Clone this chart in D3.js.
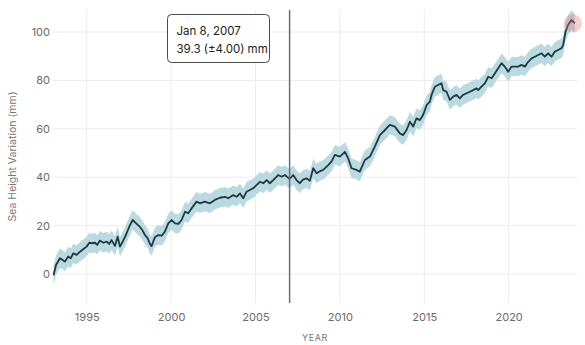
<!DOCTYPE html>
<html>
<head>
<meta charset="utf-8">
<script src="https://cdn.jsdelivr.net/npm/d3@7"></script>
<style>
  html, body { margin: 0; padding: 0; background: #fff; }
  svg { display: block; font-family: Inter, "Noto Sans", sans-serif; }
</style>
</head>
<body>
<svg id="chart" width="585" height="345"></svg>
<script>
// Satellite sea height variation (mm) against decimal year
const years = [
  1993.03, 1993.18, 1993.41, 1993.57, 1993.71, 1993.90, 1994.05, 1994.20, 1994.40, 1994.60,
  1994.79, 1994.99, 1995.15, 1995.29, 1995.49, 1995.62, 1995.78, 1995.98, 1996.18, 1996.33,
  1996.47, 1996.67, 1996.83, 1996.97, 1997.13, 1997.32, 1997.52, 1997.72, 1997.91, 1998.11,
  1998.29, 1998.45, 1998.61, 1998.74, 1998.84, 1999.04, 1999.24, 1999.44, 1999.63, 1999.83,
  2000.03, 2000.23, 2000.43, 2000.62, 2000.82, 2001.01, 2001.21, 2001.51, 2001.71, 2002.00,
  2002.30, 2002.59, 2002.89, 2003.19, 2003.38, 2003.68, 2003.88, 2004.08, 2004.27, 2004.47,
  2004.67, 2004.86, 2005.07, 2005.26, 2005.46, 2005.66, 2005.85, 2006.05, 2006.34, 2006.55,
  2006.74, 2007.02, 2007.23, 2007.43, 2007.63, 2007.81, 2008.03, 2008.22, 2008.42, 2008.62,
  2008.82, 2009.01, 2009.31, 2009.51, 2009.70, 2010.00, 2010.30, 2010.49, 2010.69, 2010.99,
  2011.18, 2011.48, 2011.78, 2012.07, 2012.37, 2012.67, 2012.96, 2013.26, 2013.55, 2013.75,
  2013.95, 2014.15, 2014.34, 2014.54, 2014.74, 2014.93, 2015.14, 2015.33, 2015.43, 2015.63,
  2015.82, 2016.02, 2016.12, 2016.32, 2016.52, 2016.71, 2016.91, 2017.11, 2017.30, 2017.51,
  2017.70, 2017.90, 2018.10, 2018.19, 2018.39, 2018.59, 2018.79, 2018.99, 2019.18, 2019.38,
  2019.58, 2019.77, 2019.97, 2020.17, 2020.37, 2020.56, 2020.76, 2020.96, 2021.16, 2021.36,
  2021.55, 2021.75, 2021.95, 2022.14, 2022.34, 2022.54, 2022.74, 2022.93, 2023.13, 2023.23,
  2023.37, 2023.52, 2023.72, 2023.92
];
const heights = [
  -0.5, 3.7, 6.5, 5.8, 5.1, 7.2, 6.5, 8.5, 7.9, 9.2,
  10.2, 11.3, 12.9, 12.7, 12.9, 12.0, 13.8, 12.9, 13.4, 12.4,
  14.0, 11.6, 15.4, 11.3, 13.4, 16.1, 19.6, 22.3, 21.0, 19.8,
  18.2, 16.1, 14.7, 12.5, 11.5, 15.2, 16.1, 15.8, 17.5, 20.9,
  22.3, 20.9, 20.7, 22.3, 25.7, 25.1, 27.1, 29.9, 29.2, 29.9,
  29.2, 30.6, 31.5, 31.9, 31.3, 32.6, 31.9, 33.3, 31.3, 34.0,
  34.7, 35.4, 36.8, 38.1, 37.5, 38.8, 37.5, 38.8, 40.9, 40.2,
  40.9, 39.3, 40.9, 38.8, 37.5, 39.0, 39.5, 38.5, 43.7, 41.6,
  42.5, 43.0, 45.0, 46.5, 49.2, 48.5, 50.5, 47.8, 43.7, 43.0,
  42.3, 47.1, 48.5, 52.6, 57.4, 59.5, 61.6, 60.9, 58.1, 57.4,
  59.5, 62.9, 60.9, 64.3, 63.6, 65.7, 69.8, 71.2, 74.0, 77.4,
  78.1, 78.8, 76.0, 75.3, 71.9, 73.3, 74.0, 72.6, 74.0, 74.7,
  75.3, 76.0, 76.7, 76.0, 77.4, 78.8, 81.5, 80.9, 82.9, 85.0,
  87.1, 85.7, 83.6, 85.7, 85.7, 85.7, 86.4, 85.7, 87.7, 89.1,
  89.8, 90.5, 91.2, 89.8, 91.2, 89.8, 91.9, 92.6, 93.3, 94.6,
  100.1, 102.9, 105.0, 103.6
];
const uncertainty = 4.0;            // ± mm
const yTicks = [0, 20, 40, 60, 80, 100];
const xTicks = [1995, 2000, 2005, 2010, 2015, 2020];
const focusYear = 2007.02;          // Jan 8, 2007
const focusLabel = "Jan 8, 2007";

const data = years.map((t, i) => ({ t, v: heights[i] }));
const focus = data.find(d => d.t === focusYear);

const svg = d3.select("#chart");
const plotLeft = 53, plotRight = 577, plotTop = 10, plotBottom = 303;

const x = d3.scaleLinear().domain([1993.0, 2024.05]).range([plotLeft, plotRight]);
const y = d3.scaleLinear().domain([-12, 109.1]).range([plotBottom, plotTop]);

// grid
svg.append("g").selectAll("line").data(yTicks).join("line")
  .attr("x1", plotLeft).attr("x2", plotRight)
  .attr("y1", d => y(d)).attr("y2", d => y(d))
  .attr("stroke", "#ececec").attr("stroke-width", 1);
svg.append("g").selectAll("line").data(xTicks).join("line")
  .attr("x1", d => x(d)).attr("x2", d => x(d))
  .attr("y1", plotTop).attr("y2", plotBottom)
  .attr("stroke", "#ececec").attr("stroke-width", 1);

// axes (labels only)
const yAxis = svg.append("g").attr("transform", `translate(${plotLeft - 3},0)`)
  .call(d3.axisLeft(y).tickValues(yTicks).tickSize(0).tickPadding(0));
const xAxis = svg.append("g").attr("transform", `translate(0,${plotBottom + 8})`)
  .call(d3.axisBottom(x).tickValues(xTicks).tickFormat(d3.format("d")).tickSize(0).tickPadding(0));
[yAxis, xAxis].forEach(g => {
  g.select(".domain").remove();
  g.selectAll("text").attr("fill", "#6b6b6b").attr("font-size", 11)
    .attr("font-family", "Inter, 'Noto Sans', sans-serif");
});
xAxis.selectAll("text").attr("dy", "0.9em");

// uncertainty band
svg.append("path").datum(data)
  .attr("fill", "#b3d5de").attr("opacity", 0.9)
  .attr("d", d3.area().x(d => x(d.t))
    .y0(d => y(d.v - uncertainty)).y1(d => y(d.v + uncertainty)));

// series line
svg.append("path").datum(data)
  .attr("fill", "none").attr("stroke", "#1e3a3f").attr("stroke-width", 1.8)
  .attr("stroke-linejoin", "round")
  .attr("d", d3.line().x(d => x(d.t)).y(d => y(d.v)));

// latest value highlight
const last = data[data.length - 1];
svg.append("circle")
  .attr("cx", x(last.t) - 2).attr("cy", y(last.v))
  .attr("r", 9).attr("fill", "rgba(226,120,120,0.35)");

// focus rule
svg.append("line")
  .attr("x1", x(focus.t)).attr("x2", x(focus.t))
  .attr("y1", plotTop).attr("y2", plotBottom)
  .attr("stroke", "#6f6f6f").attr("stroke-width", 1.5);

// tooltip
const tip = svg.append("g").attr("transform", "translate(167.5,14.5)");
tip.append("rect").attr("width", 102).attr("height", 48).attr("rx", 4)
  .attr("fill", "#fff").attr("stroke", "#4a4a4a").attr("stroke-width", 1);
tip.append("text").attr("x", 9).attr("y", 20)
  .attr("font-size", 11.5).attr("fill", "#222").text(focusLabel);
tip.append("text").attr("x", 9).attr("y", 38)
  .attr("font-size", 11.5).attr("fill", "#222")
  .text(`${focus.v.toFixed(1)} (±${uncertainty.toFixed(2)}) mm`);

// axis titles
svg.append("text")
  .attr("transform", `translate(16,${(plotTop + plotBottom) / 2}) rotate(-90)`)
  .attr("text-anchor", "middle").attr("font-size", 10.5).attr("fill", "#777")
  .text("Sea Height Variation (mm)");
svg.append("text")
  .attr("x", (plotLeft + plotRight) / 2).attr("y", 341)
  .attr("text-anchor", "middle").attr("font-size", 9).attr("fill", "#777")
  .attr("letter-spacing", 0.6).text("YEAR");
</script>
</body>
</html>
